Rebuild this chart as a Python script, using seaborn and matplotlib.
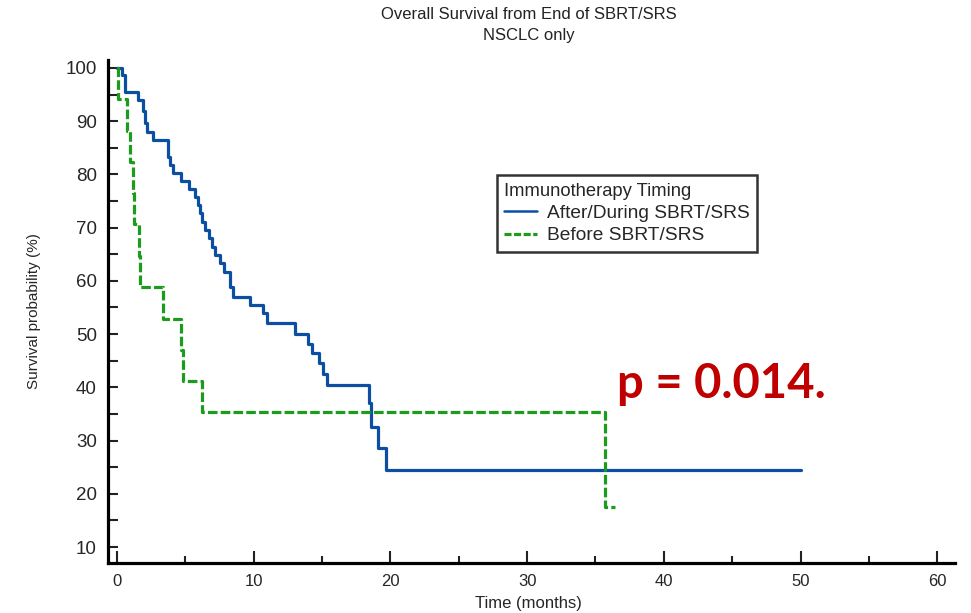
import numpy as np
import pandas as pd
import matplotlib
matplotlib.use("Agg")
import matplotlib.pyplot as plt
from matplotlib.lines import Line2D
from matplotlib.ticker import MultipleLocator
import seaborn as sns

sns.set_style("ticks")
plt.rcParams["font.family"] = ["Liberation Sans", "DejaVu Sans"]

GROUP_AFTER = "After/During SBRT/SRS"
GROUP_BEFORE = "Before SBRT/SRS"
BLUE = "#0b4ea2"
GREEN = "#1c9c1c"

# Kaplan-Meier steps (months, survival %)
after_time = [0, 0.35, 0.6, 1.55, 1.9, 2.05, 2.2, 2.65, 3.75, 3.85, 4.1, 4.7,
              5.25, 5.7, 5.9, 6.05, 6.25, 6.45, 6.7, 6.95, 7.2, 7.55, 7.8,
              8.3, 8.45, 9.75, 10.7, 10.95, 13.0, 14.0, 14.25, 14.8, 15.05,
              15.35, 18.4, 18.6, 19.1, 19.7, 50.0]
after_surv = [100, 98.7, 95.4, 94.0, 92.0, 89.6, 88.0, 86.5, 83.3, 81.8, 80.2,
              78.8, 77.3, 75.8, 74.2, 72.7, 71.1, 69.5, 68.0, 66.4, 64.8, 63.3,
              61.7, 58.9, 57.0, 55.5, 53.9, 52.1, 50.0, 48.1, 46.5, 44.5, 42.5,
              40.4, 37.0, 32.6, 28.6, 24.5, 24.5]
before_time = [0, 0.1, 0.75, 0.95, 1.15, 1.25, 1.6, 1.65, 3.35, 4.7, 4.8,
               6.2, 35.7, 36.4]
before_surv = [100, 94.1, 88.2, 82.4, 76.5, 70.6, 64.7, 58.8, 52.9, 47.1,
               41.2, 35.3, 17.6, 17.6]

x_ticks = [0, 10, 20, 30, 40, 50, 60]
y_ticks = [10, 20, 30, 40, 50, 60, 70, 80, 90, 100]
p_label = "p = 0.014."

df = pd.concat([
    pd.DataFrame({"time": after_time, "surv": after_surv, "group": GROUP_AFTER}),
    pd.DataFrame({"time": before_time, "surv": before_surv, "group": GROUP_BEFORE}),
])

fig = plt.figure(figsize=(9.71, 6.13), dpi=100)
ax = fig.add_axes([0.1112, 0.0816, 0.8723, 0.8206])

sns.lineplot(data=df[df["group"] == GROUP_AFTER], x="time", y="surv",
             color=BLUE, lw=2.3, drawstyle="steps-post", estimator=None,
             ax=ax, legend=False)
sns.lineplot(data=df[df["group"] == GROUP_BEFORE], x="time", y="surv",
             color=GREEN, lw=2.3, drawstyle="steps-post", estimator=None,
             linestyle=(0, (3, 1)), ax=ax, legend=False)

ax.set_xlim(-0.66, 61.3)
ax.set_ylim(7, 101.5)
ax.set_xticks(x_ticks)
ax.set_yticks(y_ticks)
ax.xaxis.set_minor_locator(MultipleLocator(5))
ax.yaxis.set_minor_locator(MultipleLocator(5))
ax.tick_params(which="both", direction="in", width=1.5, color="#222222")
ax.tick_params(axis="x", which="major", length=9, pad=8, labelsize=12)
ax.tick_params(axis="x", which="minor", length=5)
ax.tick_params(axis="y", which="both", length=7, pad=8, labelsize=13.5)

sns.despine(ax=ax)
for side in ["left", "bottom"]:
    ax.spines[side].set_linewidth(2.3)
    ax.spines[side].set_color("black")

ax.set_xlabel("Time (months)", fontsize=12)
ax.set_ylabel("Survival probability (%)", fontsize=11)
ax.xaxis.set_label_coords(0.497, -0.066)
ax.yaxis.set_label_coords(-0.079, 0.5)

fig.text(0.545, 0.988, "Overall Survival from End of SBRT/SRS\nNSCLC only",
         ha="center", va="top", fontsize=12, linespacing=1.45, color="#222222")

handles = [Line2D([], [], color=BLUE, lw=1.8),
           Line2D([], [], color=GREEN, lw=2.3, linestyle=(0, (2.2, 0.8)))]
leg = ax.legend(handles, [GROUP_AFTER, GROUP_BEFORE], title="Immunotherapy Timing",
                loc="upper left", bbox_to_anchor=(0.459, 0.771), fontsize=13.8,
                title_fontsize=13.2, alignment="left", fancybox=False,
                framealpha=1, edgecolor="#333333", handlelength=1.7,
                handletextpad=0.5, borderpad=0.4, labelspacing=0.25,
                borderaxespad=0)
leg.get_frame().set_linewidth(1.8)

ax.text(36.6, 38.0, p_label, fontsize=34, fontweight="bold", color="#c00000",
        family=["Lato", "DejaVu Sans"], ha="left", va="baseline")

fig.savefig("out.png", dpi=100)
